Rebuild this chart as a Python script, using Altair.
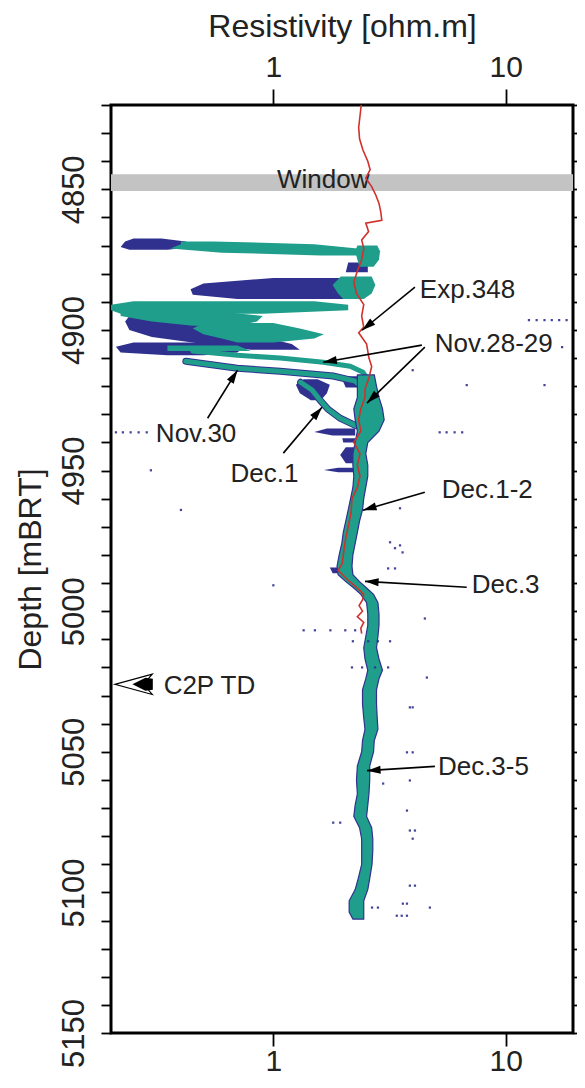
import math
import altair as alt
import pandas as pd

# ---------------- axes / frame ----------------
X_MIN, X_MAX = 0.2, 19.5
D_TOP, D_BOT = 4820, 5150
W, H = 462, 928
X_TICKS = [1, 10]
DEPTH_TICKS = list(range(4820, 5151, 10))

TEAL = "#1f9e8b"
BLUE = "#30318f"
RED = "#d0312d"
FONT = "Liberation Sans"

# ---------------- Exp.348 resistivity (red) ----------------
RED_DEPTH = [4820, 4824, 4828, 4832, 4836, 4840, 4843, 4846, 4849, 4852, 4855, 4858, 4861, 4862,
             4865, 4868, 4871, 4875, 4879, 4883, 4887, 4891, 4895, 4899, 4901, 4905, 4910, 4913,
             4917, 4921, 4924, 4928, 4932, 4936, 4940, 4944, 4948, 4952, 4956, 4960, 4965, 4970,
             4975, 4980, 4983, 4985.5, 4989, 4991.5, 4994, 4996, 4998, 5000, 5002, 5004, 5006, 5008]
RED_RES = [2.39, 2.36, 2.33, 2.35, 2.43, 2.55, 2.61, 2.50, 2.65, 2.76, 2.85, 2.90, 2.93, 2.50,
           2.57, 2.40, 2.45, 2.40, 2.30, 2.22, 2.28, 2.45, 2.40, 2.45, 2.33, 2.52, 2.58, 2.65,
           2.58, 2.48, 2.48, 2.38, 2.33, 2.38, 2.22, 2.36, 2.30, 2.36, 2.30, 2.18, 2.16, 2.10,
           2.04, 2.00, 1.98, 1.90, 2.10, 2.28, 2.45, 2.42, 2.34, 2.42, 2.30, 2.45, 2.38, 2.40]

# ---------------- main LWD band (Dec.1-5) ----------------
BAND_DEPTH = [4916, 4920, 4924, 4928, 4932, 4936, 4940, 4944, 4948, 4952, 4956, 4960, 4964, 4968,
              4972, 4976, 4980, 4984, 4987, 4989.5, 4991.5, 4994, 4997, 5001, 5005, 5009, 5013,
              5017, 5021, 5024, 5028, 5033, 5038, 5042, 5046, 5050, 5055, 5060, 5065, 5069, 5073,
              5077, 5081, 5085, 5090, 5095, 5099, 5103, 5107, 5109.5]
BAND_LO = [2.30, 2.30, 2.30, 2.22, 2.25, 2.30, 2.25, 2.20, 2.20, 2.22, 2.20, 2.15, 2.10, 2.05,
           2.00, 1.97, 1.92, 1.88, 1.90, 2.05, 2.20, 2.38, 2.52, 2.55, 2.55, 2.50, 2.45,
           2.48, 2.55, 2.50, 2.42, 2.42, 2.45, 2.48, 2.42, 2.40, 2.30, 2.28, 2.30, 2.25, 2.22,
           2.35, 2.40, 2.40, 2.40, 2.32, 2.25, 2.12, 2.12, 2.20]
BAND_HI = [2.72, 2.78, 2.85, 2.95, 3.00, 2.85, 2.55, 2.50, 2.55, 2.55, 2.50, 2.45, 2.42, 2.35,
           2.30, 2.25, 2.20, 2.18, 2.20, 2.35, 2.50, 2.70, 2.82, 2.85, 2.85, 2.82, 2.78,
           2.85, 2.95, 2.85, 2.78, 2.78, 2.80, 2.82, 2.72, 2.70, 2.60, 2.60, 2.58, 2.55, 2.52,
           2.65, 2.68, 2.68, 2.66, 2.60, 2.55, 2.45, 2.45, 2.45]

# ---------------- upper cloud patches ----------------
BLUE_ID = ["b1"] * 4 + ["b2"] * 2 + ["b3"] * 5 + ["b4"] * 6 + ["b5"] * 4 + ["b6"] * 2 + \
          ["b7"] * 4 + ["b8"] * 3 + ["b9"] * 2 + ["b10"] * 3 + ["b11"] * 3 + ["b12"] * 2
BLUE_DEPTH = [4867.5, 4868.5, 4870.5, 4871.5,
              4876, 4879.5,
              4881.5, 4883.5, 4885.5, 4887.5, 4889,
              4895, 4897, 4900, 4902.5, 4905, 4907,
              4904.5, 4906, 4908, 4909,
              4916.5, 4920.5,
              4917.5, 4919.5, 4922.5, 4925,
              4935, 4936.3, 4937.5,
              4938.5, 4940,
              4941.7, 4944.5, 4947.4,
              4949, 4949.8, 4950.6,
              4984.5, 4986.5]
BLUE_LO = [0.25, 0.23, 0.22, 0.24,
           2.10, 2.05,
           1.00, 0.50, 0.44, 0.45, 0.70,
           0.24, 0.23, 0.24, 0.30, 0.50, 0.80,
           0.25, 0.21, 0.22, 0.35,
           1.95, 2.05,
           1.35, 1.25, 1.30, 1.45,
           1.70, 1.50, 1.80,
           1.98, 2.00,
           2.05, 1.94, 2.05,
           1.90, 1.65, 1.90,
           1.75, 1.80]
BLUE_HI = [0.33, 0.42, 0.45, 0.35,
           2.55, 2.55,
           2.20, 2.30, 2.30, 2.20, 2.00,
           0.45, 0.60, 0.75, 0.90, 1.20, 1.30,
           0.50, 0.75, 0.70, 0.50,
           2.45, 2.40,
           1.55, 1.75, 1.70, 1.60,
           2.25, 2.25, 2.25,
           2.30, 2.30,
           2.25, 2.25, 2.25,
           2.35, 2.35, 2.35,
           2.00, 2.00]

TEAL_ID = ["t1"] * 5 + ["t2"] * 4 + ["t3"] * 4 + ["t4"] * 4 + ["t5"] * 4 + ["t6"] * 5 + ["t7"] * 2
TEAL_DEPTH = [4868.5, 4869.5, 4871, 4872.5, 4873.5,
              4870, 4872, 4875, 4877.5,
              4881, 4884, 4887, 4889,
              4889.8, 4891, 4893, 4894.2,
              4893.5, 4895, 4897, 4898.5,
              4897.5, 4899.5, 4901.5, 4903, 4904.5,
              4905.5, 4907.5]
TEAL_LO = [0.40, 0.40, 0.36, 0.60, 1.60,
           2.30, 2.25, 2.30, 2.35,
           1.95, 1.80, 1.90, 2.00,
           0.25, 0.20, 0.20, 0.22,
           0.22, 0.22, 0.30, 0.45,
           0.50, 0.45, 0.50, 0.60, 0.70,
           0.35, 0.35]
TEAL_HI = [0.55, 1.50, 2.30, 2.45, 2.55,
           2.80, 2.88, 2.85, 2.70,
           2.65, 2.75, 2.65, 2.45,
           1.50, 2.10, 2.10, 0.90,
           0.60, 0.90, 0.85, 0.70,
           1.00, 1.30, 1.65, 1.50, 1.00,
           0.70, 0.80]

# ---------------- individual passes (thick traces) ----------------
TRACE_ID = ["Nov.28-29"] * 7 + ["Nov.30"] * 6 + ["Dec.1"] * 7
TRACE_DEPTH = [4907.5, 4909.0, 4910.0, 4911.5, 4912.9, 4915.0, 4917.9,
               4911.1, 4913.6, 4914.7, 4916.4, 4918.2, 4921.4,
               4918.6, 4921.4, 4925.0, 4928.2, 4931.4, 4933.9, 4934.9]
TRACE_RES = [0.45, 0.70, 1.07, 1.64, 2.14, 2.43, 2.56,
             0.42, 0.70, 1.07, 1.81, 2.25, 2.48,
             1.31, 1.47, 1.59, 1.72, 1.94, 2.25, 2.48]
OUTLINED_TRACES = ["Nov.30", "Dec.1"]

# ---------------- scattered points ----------------
DOT_RES = [0.21, 0.225, 0.243, 0.263, 0.285, 5.2, 5.57, 6.03, 6.5,
           12.6, 13.6, 14.7, 15.8, 17.0, 18.3, 17.5, 6.8, 14.7, 3.98,
           0.297, 0.40, 3.51, 3.34, 3.60, 3.18, 3.12, 3.34, 1.0,
           1.35, 1.51, 1.76, 2.04, 2.25, 2.2, 2.56, 2.82, 3.18,
           2.18, 2.41, 2.74, 3.12, 4.49, 4.58, 3.98, 3.87, 3.76, 3.98,
           2.97, 3.87, 3.76, 3.87, 4.07, 3.98, 1.81, 1.94, 3.87, 4.07,
           3.61, 3.76, 4.72, 2.66, 2.82, 3.40, 3.57, 3.76, 3.51]
DOT_DEPTH = [4936.4, 4936.4, 4936.4, 4936.4, 4936.4, 4936.4, 4936.4, 4936.4, 4936.4,
             4896.5, 4896.5, 4896.5, 4896.5, 4896.5, 4896.5, 4906.1, 4919.6, 4919.6, 4914.3,
             4949.9, 4964.0, 4976.6, 4977.6, 4979.1, 4975.5, 4984.8, 4984.8, 4990.8,
             5006.8, 5006.8, 5006.8, 5006.8, 5006.8, 5010.7, 5010.7, 5010.7, 5010.7,
             5020.0, 5020.0, 5020.0, 5020.0, 5002.6, 5023.6, 5034.2, 5034.2, 5050.2, 5050.2,
             5061.3, 5060.2, 5070.9, 5078.0, 5078.0, 5080.9, 5075.2, 5075.2, 5097.6, 5097.6,
             5104.0, 5104.0, 5105.4, 5105.4, 5105.4, 5108.3, 5108.3, 5108.3, 4963.4]

# ---------------- annotations ----------------
WINDOW_TOP, WINDOW_BOT = 4844.6, 4850.6
WINDOW_TEXT, WINDOW_X, WINDOW_D = "Window", 1.64, 4849.5

LABEL_TEXT = ["Exp.348", "Nov.28-29", "Nov.30", "Dec.1", "Dec.1-2", "Dec.3", "Dec.3-5", "C2P TD"]
LABEL_X = [4.27, 4.95, 0.312, 0.654, 5.31, 7.14, 5.11, 0.337]
LABEL_D = [4888.7, 4907.9, 4939.9, 4954.2, 4959.9, 4993.7, 5058.4, 5029.6]

ARROW_X0 = [4.07, 4.36, 4.49, 0.521, 1.104, 4.49, 6.80, 4.96]
ARROW_D0 = [4884.8, 4905.4, 4906.1, 4931.4, 4943.8, 4957.7, 4991.5, 5055.2]
ARROW_X1 = [2.41, 1.64, 2.53, 0.701, 1.62, 2.43, 2.48, 2.53]
ARROW_D1 = [4900.1, 4911.5, 4926.0, 4914.3, 4927.5, 4964.1, 4989.4, 5056.7]

TD_X, TD_D = 0.252, 5026.0


# ---------------- build tables ----------------
def px(v):
    return (math.log10(v) - math.log10(X_MIN)) / (math.log10(X_MAX) - math.log10(X_MIN)) * W


def py(d):
    return (d - D_TOP) / (D_BOT - D_TOP) * H


red_df = pd.DataFrame({"d": RED_DEPTH, "r": RED_RES})
band_df = pd.DataFrame({"d": BAND_DEPTH, "lo": BAND_LO, "hi": BAND_HI})
blue_df = pd.DataFrame({"id": BLUE_ID, "d": BLUE_DEPTH, "lo": BLUE_LO, "hi": BLUE_HI})
teal_df = pd.DataFrame({"id": TEAL_ID, "d": TEAL_DEPTH, "lo": TEAL_LO, "hi": TEAL_HI})
trace_df = pd.DataFrame({"id": TRACE_ID, "d": TRACE_DEPTH, "r": TRACE_RES,
                         "seq": list(range(len(TRACE_ID)))})
trace_out_df = trace_df[trace_df["id"].isin(OUTLINED_TRACES)]
dot_df = pd.DataFrame({"r": DOT_RES, "d": DOT_DEPTH})
label_df = pd.DataFrame({"t": LABEL_TEXT, "r": LABEL_X, "d": LABEL_D})
angles = []
for x0, d0, x1, d1 in zip(ARROW_X0, ARROW_D0, ARROW_X1, ARROW_D1):
    dx = px(x1) - px(x0)
    dy = py(d1) - py(d0)
    angles.append(math.degrees(math.atan2(dx, -dy)) % 360)
arrow_df = pd.DataFrame({"x0": ARROW_X0, "d0": ARROW_D0, "x1": ARROW_X1, "d1": ARROW_D1, "ang": angles})
win_df = pd.DataFrame({"a": [X_MIN], "b": [X_MAX], "d0": [WINDOW_TOP], "d1": [WINDOW_BOT]})
wtext_df = pd.DataFrame({"t": [WINDOW_TEXT], "r": [WINDOW_X], "d": [WINDOW_D]})
td_df = pd.DataFrame({"r": [TD_X], "d": [TD_D]})

xs = alt.Scale(type="log", domain=[X_MIN, X_MAX], nice=False)
ys = alt.Scale(domain=[D_TOP, D_BOT], reverse=True, nice=False, zero=False)

common_axis = dict(domain=False, grid=False, tickColor="black", tickWidth=1.8,
                   labelColor="#222", titleColor="#222", labelFont=FONT, titleFont=FONT,
                   titleFontSize=32, titleFontWeight="normal", labelOverlap=False)

x_top = alt.Axis(orient="top", values=X_TICKS, format="~g", title="Resistivity [ohm.m]",
                 tickSize=16, labelPadding=7, labelFontSize=30, titleX=W / 2, titleY=-69,
                 titleAlign="center", titleBaseline="alphabetic", **common_axis)
x_bot = alt.Axis(orient="bottom", values=X_TICKS, format="~g", title=None,
                 tickSize=13, labelPadding=0, labelFontSize=30, **common_axis)
y_left = alt.Axis(orient="left", values=DEPTH_TICKS,
                  labelExpr="datum.value % 50 == 0 ? format(datum.value, 'd') : ''",
                  labelAngle=270, labelAlign="center", labelBaseline="alphabetic",
                  labelPadding=18, labelFontSize=31, tickSize=10, title="Depth [mBRT]",
                  titleAngle=270, titleX=-71, titleY=H / 2, titleAlign="center",
                  titleBaseline="alphabetic", **common_axis)
y_right = alt.Axis(orient="right", values=DEPTH_TICKS, labels=False, tickSize=12, title=None,
                   domain=False, grid=False, tickColor="black", tickWidth=1.8)

window = alt.Chart(win_df).mark_rect(color="#c3c3c3").encode(
    x=alt.X("a:Q", scale=xs, axis=x_top), x2="b:Q",
    y=alt.Y("d0:Q", scale=ys, axis=y_left), y2="d1:Q")

wtext = alt.Chart(wtext_df).mark_text(font=FONT, fontSize=26, align="center",
                                      baseline="alphabetic", color="#222").encode(
    x=alt.X("r:Q", scale=xs, axis=None), y=alt.Y("d:Q", scale=ys, axis=None), text="t:N")

blue_area = alt.Chart(blue_df).mark_area(orient="horizontal", color=BLUE).encode(
    y=alt.Y("d:Q", scale=ys, axis=None), x=alt.X("lo:Q", scale=xs, axis=None), x2="hi:Q",
    detail="id:N")

teal_area = alt.Chart(teal_df).mark_area(orient="horizontal", color=TEAL).encode(
    y=alt.Y("d:Q", scale=ys, axis=None), x=alt.X("lo:Q", scale=xs, axis=None), x2="hi:Q",
    detail="id:N")

trace_blue = alt.Chart(trace_out_df).mark_line(color=BLUE, strokeWidth=7, strokeCap="round").encode(
    x=alt.X("r:Q", scale=xs, axis=None), y=alt.Y("d:Q", scale=ys, axis=None),
    detail="id:N", order="seq:Q")

trace_teal = alt.Chart(trace_df).mark_line(color=TEAL, strokeWidth=5, strokeCap="round").encode(
    x=alt.X("r:Q", scale=xs, axis=None), y=alt.Y("d:Q", scale=ys, axis=None),
    detail="id:N", order="seq:Q")

band = alt.Chart(band_df).mark_area(orient="horizontal", color=TEAL, stroke=BLUE,
                                    strokeWidth=1.2).encode(
    y=alt.Y("d:Q", scale=ys, axis=y_right), x=alt.X("lo:Q", scale=xs, axis=x_bot), x2="hi:Q")

dots = alt.Chart(dot_df).mark_square(size=5, color=BLUE, opacity=0.9).encode(
    x=alt.X("r:Q", scale=xs, axis=None), y=alt.Y("d:Q", scale=ys, axis=None))

red = alt.Chart(red_df).mark_line(color=RED, strokeWidth=1.6).encode(
    x=alt.X("r:Q", scale=xs, axis=None), y=alt.Y("d:Q", scale=ys, axis=None), order="d:Q")

arrows = alt.Chart(arrow_df).mark_rule(color="black", strokeWidth=1.6).encode(
    x=alt.X("x0:Q", scale=xs, axis=None), x2="x1:Q",
    y=alt.Y("d0:Q", scale=ys, axis=None), y2="d1:Q")

heads = alt.Chart(arrow_df).mark_point(shape="M0,0 L0.5,1.7 L-0.5,1.7 Z", filled=True,
                                       color="black", opacity=1, size=256).encode(
    x=alt.X("x1:Q", scale=xs, axis=None), y=alt.Y("d1:Q", scale=ys, axis=None),
    angle=alt.Angle("ang:Q", scale=None))

labels = alt.Chart(label_df).mark_text(font=FONT, fontSize=26, align="left",
                                       baseline="alphabetic", color="#222").encode(
    x=alt.X("r:Q", scale=xs, axis=None), y=alt.Y("d:Q", scale=ys, axis=None), text="t:N")

td_open = alt.Chart(td_df).mark_point(shape="M-1.05,0 L0.97,-0.55 L0.5,0 L0.97,0.55 Z",
                                      fill="white", stroke="black", strokeWidth=1.2,
                                      filled=False, opacity=1, size=1369).encode(
    x=alt.X("r:Q", scale=xs, axis=None), y=alt.Y("d:Q", scale=ys, axis=None))

td_fill = alt.Chart(td_df).mark_point(shape="M-0.1,0 L0.6,-0.35 L1.0,-0.3 L1.0,0.3 L0.6,0.35 Z",
                                      filled=True, color="black", opacity=1, size=1369).encode(
    x=alt.X("r:Q", scale=xs, axis=None), y=alt.Y("d:Q", scale=ys, axis=None))

chart = alt.layer(
    window, wtext, blue_area, teal_area, trace_blue, trace_teal, band, dots, red,
    arrows, heads, labels, td_open, td_fill
).resolve_axis(x="independent", y="independent").properties(
    width=W, height=H,
    autosize=alt.AutoSizeParams(type="none"),
    padding={"left": 103, "top": 97, "right": 4, "bottom": 47},
).configure_view(stroke="black", strokeWidth=3)

chart.save("out.html", embed_options={"renderer": "svg", "actions": False})
